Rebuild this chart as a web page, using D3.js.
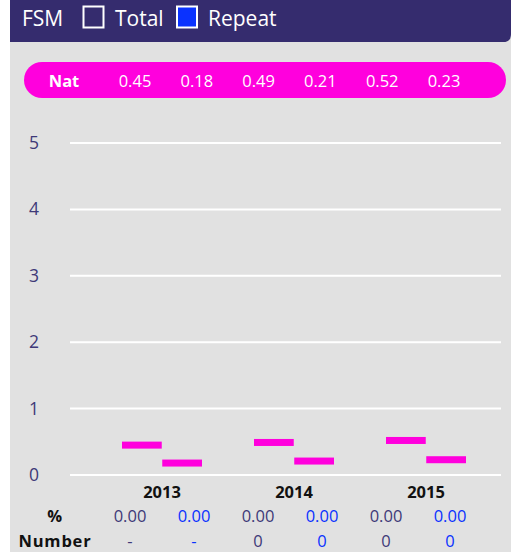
<!DOCTYPE html>
<html>
<head>
<meta charset="utf-8">
<script src="https://cdn.jsdelivr.net/npm/d3@7"></script>
<style>
  html, body { margin: 0; padding: 0; background: #ffffff; }
  svg { display: block; font-family: "Open Sans", "Noto Sans", sans-serif; }
</style>
</head>
<body>
<script>
// FSM national rates per year: total and repeat
const years = ["2013", "2014", "2015"];
const seriesKeys = ["Total", "Repeat"];
const natTotal = [0.45, 0.49, 0.52];
const natRepeat = [0.18, 0.21, 0.23];
const pctTotal = ["0.00", "0.00", "0.00"];
const pctRepeat = ["0.00", "0.00", "0.00"];
const numTotal = ["-", "0", "0"];
const numRepeat = ["-", "0", "0"];
const yTicks = [0, 1, 2, 3, 4, 5];

const W = 511, H = 552;
const svg = d3.select("body").append("svg").attr("width", W).attr("height", H);

const purple = "#352c6e";
const magenta = "#ff00dd";
const blue = "#0a32ff";
const tickColor = "#3e3978";

// panel background
svg.append("rect").attr("x", 10).attr("y", 0).attr("width", W - 10).attr("height", H).attr("fill", "#e1e1e1");

// header band with rounded bottom-right corner
svg.append("path")
  .attr("d", `M10,0 H${W} V34 Q${W},42 ${W - 8},42 H10 Z`)
  .attr("fill", purple);

const header = svg.append("g").attr("fill", "#ffffff").attr("font-size", 21);
header.append("text").attr("x", 22).attr("y", 26).text("FSM");
header.append("rect").attr("x", 83.5).attr("y", 6.5).attr("width", 20).attr("height", 21)
  .attr("fill", "none").attr("stroke", "#ffffff").attr("stroke-width", 2);
header.append("text").attr("x", 115).attr("y", 26).text(seriesKeys[0]);
header.append("rect").attr("x", 177).attr("y", 6.5).attr("width", 20).attr("height", 21)
  .attr("fill", blue).attr("stroke", "#ffffff").attr("stroke-width", 2);
header.append("text").attr("x", 208).attr("y", 26).text(seriesKeys[1]);

// scales
const y = d3.scaleLinear().domain([0, 5]).range([475, 143]);
const x = d3.scaleBand().domain(years).range([96, 492]).padding(0);
const xs = d3.scaleBand().domain(seriesKeys).range([-40, 40]).paddingInner(0.0125);

// national reference pill
const natVals = years.flatMap((yr, i) => [natTotal[i], natRepeat[i]]);
svg.append("rect").attr("x", 24).attr("y", 62).attr("width", 482).attr("height", 36)
  .attr("rx", 18).attr("fill", magenta);
svg.append("text").attr("x", 64).attr("y", 87).attr("text-anchor", "middle")
  .attr("font-weight", "bold").attr("font-size", 16.5).attr("fill", "#ffffff").text("Nat");
const natX = d3.scalePoint().domain(d3.range(natVals.length)).range([135, 444]);
svg.append("g").selectAll("text").data(natVals).join("text")
  .attr("x", (d, i) => natX(i)).attr("y", 87).attr("text-anchor", "middle")
  .attr("font-size", 16.5).attr("fill", "#ffffff").text(d => d.toFixed(2));

// gridlines and y tick labels
const grid = svg.append("g");
grid.selectAll("line").data(yTicks).join("line")
  .attr("x1", 70).attr("x2", 501)
  .attr("y1", d => y(d)).attr("y2", d => y(d))
  .attr("stroke", "#ffffff").attr("stroke-width", 2);
grid.selectAll("text").data(yTicks).join("text")
  .attr("x", 34).attr("y", d => y(d) + 6).attr("text-anchor", "middle")
  .attr("font-size", 17.5).attr("fill", tickColor).text(d => d);

// national markers
const markers = years.flatMap((yr, i) => [
  { year: yr, key: "Total", v: natTotal[i] },
  { year: yr, key: "Repeat", v: natRepeat[i] }
]);
svg.append("g").selectAll("rect").data(markers).join("rect")
  .attr("x", d => x(d.year) + x.bandwidth() / 2 + xs(d.key))
  .attr("width", xs.bandwidth())
  .attr("y", d => y(d.v) - 3.5)
  .attr("height", 7)
  .attr("fill", magenta);

// year labels
svg.append("g").selectAll("text").data(years).join("text")
  .attr("x", d => x(d) + x.bandwidth() / 2).attr("y", 498)
  .attr("text-anchor", "middle").attr("font-weight", "bold").attr("font-size", 16.5)
  .attr("fill", "#111111").text(d => d);

// table rows
const rowLabels = [{ t: "%", y: 522 }, { t: "Number", y: 547 }];
svg.append("g").selectAll("text").data(rowLabels).join("text")
  .attr("x", 55).attr("y", d => d.y).attr("text-anchor", "middle")
  .attr("font-weight", "bold").attr("font-size", 16.5).attr("fill", "#111111")
  .attr("letter-spacing", 0.8).text(d => d.t);

const cellX = d3.scalePoint().domain(d3.range(6)).range([130, 450]);
const rows = [
  { y: 522, vals: years.flatMap((yr, i) => [pctTotal[i], pctRepeat[i]]) },
  { y: 547, vals: years.flatMap((yr, i) => [numTotal[i], numRepeat[i]]) }
];
rows.forEach(r => {
  svg.append("g").selectAll("text").data(r.vals).join("text")
    .attr("x", (d, i) => cellX(i)).attr("y", r.y).attr("text-anchor", "middle")
    .attr("font-size", 16.5).attr("fill", (d, i) => i % 2 ? blue : tickColor)
    .text(d => d);
});
</script>
</body>
</html>
